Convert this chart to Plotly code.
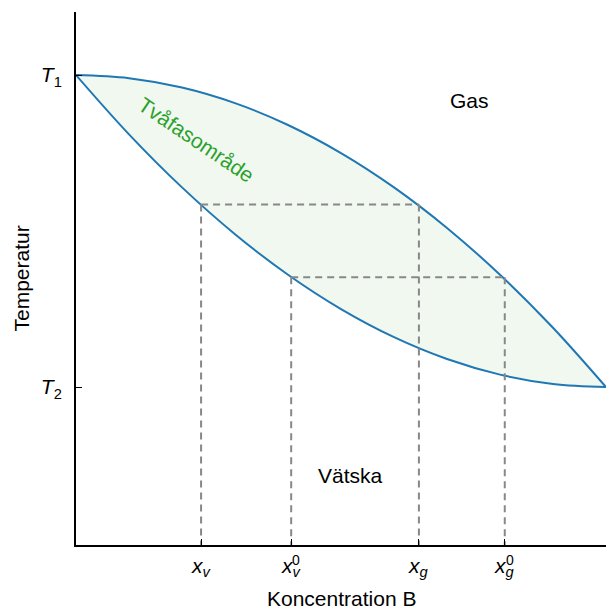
import plotly.graph_objects as go

# Concentration of B (0..1) where the phase boundaries were read
conc = [0.0, 0.1, 0.2, 0.3, 0.4, 0.5, 0.6, 0.7, 0.8, 0.9, 1.0]
# Liquidus (lower boundary) temperatures, T2=0 .. T1=1
liquid_T = [1.0, 0.81, 0.64, 0.49, 0.36, 0.25, 0.16, 0.09, 0.04, 0.01, 0.0]
# Vapour (upper boundary) temperatures
gas_T = [1.0, 0.99, 0.96, 0.91, 0.84, 0.75, 0.64, 0.51, 0.36, 0.19, 0.0]

# Tie lines
x_v, x_g = 0.236, 0.647
x_v0, x_g0 = 0.406, 0.809
T_a, T_b = 0.585, 0.352

y_ticks = [0, 1]
y_ticktext = ["<i>T</i><sub>2</sub>", "<i>T</i><sub>1</sub>"]
x_ticks = [x_v, x_v0, x_g, x_g0]

Y_MIN, Y_MAX = -0.506, 1.202
FONT = "Liberation Sans, Arial, sans-serif"
BLUE = "#1f77b4"
GREEN = "#2ca02c"
GRAY = "#888888"
FS = 21

fig = go.Figure()
fig.add_trace(go.Scatter(x=conc, y=liquid_T, mode="lines",
                         line=dict(color=BLUE, width=2, shape="spline"),
                         hoverinfo="skip", showlegend=False))
fig.add_trace(go.Scatter(x=conc, y=gas_T, mode="lines", fill="tonexty",
                         fillcolor="rgb(240,248,240)",
                         line=dict(color=BLUE, width=2, shape="spline"),
                         hoverinfo="skip", showlegend=False))

dash = dict(color=GRAY, width=2, dash="7px,5px")
# horizontal tie lines
fig.add_trace(go.Scatter(x=[x_v, x_g], y=[T_a, T_a], mode="lines", line=dash,
                         hoverinfo="skip", showlegend=False))
fig.add_trace(go.Scatter(x=[x_v0, x_g0], y=[T_b, T_b], mode="lines", line=dash,
                         hoverinfo="skip", showlegend=False))
# vertical drop lines
for xv, tv in [(x_v, T_a), (x_g, T_a), (x_v0, T_b), (x_g0, T_b)]:
    fig.add_trace(go.Scatter(x=[xv, xv], y=[tv, Y_MIN], mode="lines", line=dash,
                             hoverinfo="skip", showlegend=False))

ann = []
ann.append(dict(x=0.743, y=0.917, text="Gas", showarrow=False,
                font=dict(size=FS, color="black", family=FONT)))
ann.append(dict(x=0.517, y=-0.282, text="Vätska", showarrow=False,
                font=dict(size=FS, color="black", family=FONT)))
ann.append(dict(x=0.226, y=0.792, text="Tvåfasområde", showarrow=False, textangle=34,
                font=dict(size=FS, color=GREEN, family=FONT)))

# x tick labels
labels = [(x_v, "v", False), (x_v0, "v", True), (x_g, "g", False), (x_g0, "g", True)]
for xv, sub, sup in labels:
    ann.append(dict(x=xv, y=0, xref="x", yref="paper", yanchor="top", yshift=-7,
                    text=f"<i>x<sub>{sub}</sub></i>", showarrow=False,
                    font=dict(size=FS, color="black", family=FONT)))
    if sup:
        ann.append(dict(x=xv, y=0, xref="x", yref="paper", yanchor="top",
                        yshift=-5, xshift=5,
                        text="0", showarrow=False,
                        font=dict(size=14, color="black", family=FONT)))

ann.append(dict(x=0.5, y=0, xref="paper", yref="paper", yanchor="top", yshift=-40,
                text="Koncentration B", showarrow=False,
                font=dict(size=FS, color="black", family=FONT)))
ann.append(dict(x=0, y=0.5, xref="paper", yref="paper", xanchor="center", xshift=-55,
                text="Temperatur", textangle=-90, showarrow=False,
                font=dict(size=FS, color="black", family=FONT)))

fig.update_layout(
    width=606, height=610,
    margin=dict(l=76, r=0, t=12, b=65),
    plot_bgcolor="white", paper_bgcolor="white",
    annotations=ann,
    xaxis=dict(range=[0, 1], tickvals=x_ticks, ticktext=["", "", "", ""],
               ticks="inside", ticklen=6, tickcolor="black", tickwidth=1,
               showline=True, linecolor="black", linewidth=2, mirror=False,
               showgrid=False, zeroline=False),
    yaxis=dict(range=[Y_MIN, Y_MAX], tickvals=y_ticks, ticktext=y_ticktext,
               ticks="inside", ticklen=6, tickcolor="black", tickwidth=1,
               tickfont=dict(size=FS, color="black", family=FONT),
               ticklabelstandoff=8,
               showline=True, linecolor="black", linewidth=2,
               showgrid=False, zeroline=False),
)

fig.write_html(
    "out.html",
    config={"displayModeBar": False},
    post_script="document.body.style.margin='0';document.body.style.overflow='hidden';",
)
